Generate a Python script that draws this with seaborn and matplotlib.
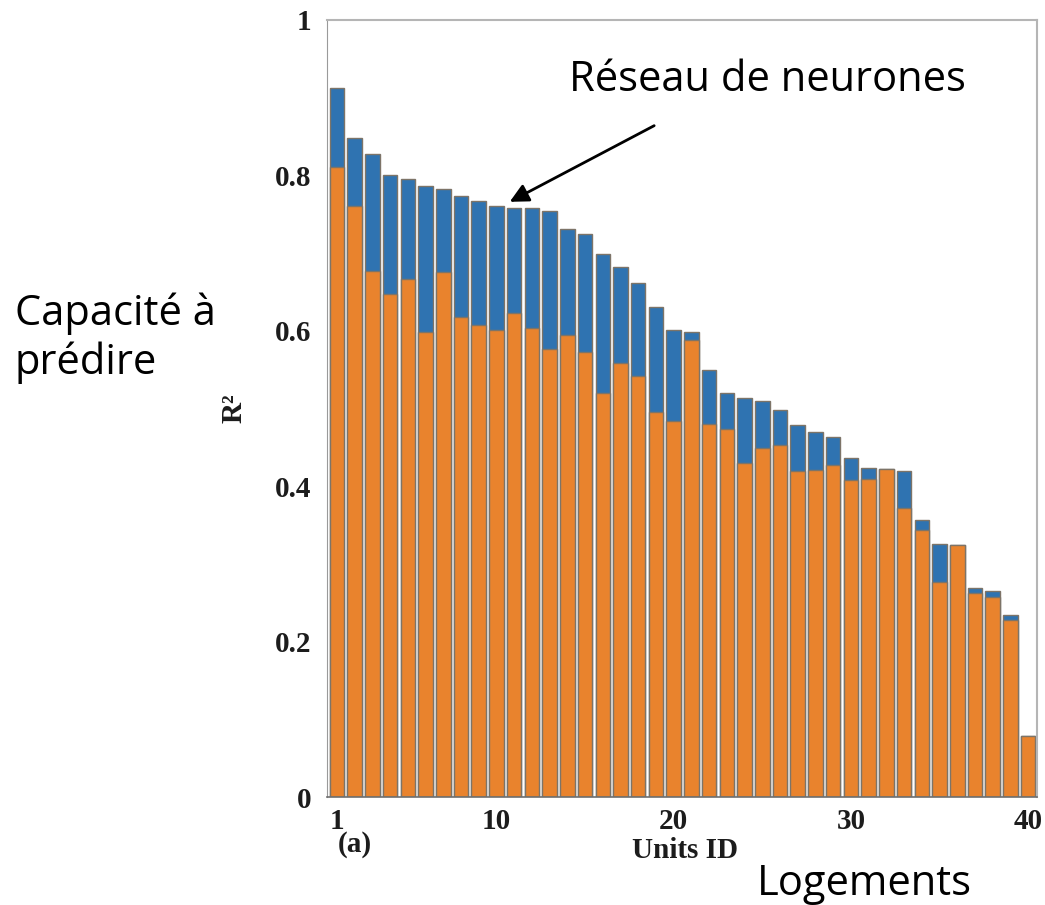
import matplotlib
matplotlib.use("Agg")
import matplotlib.pyplot as plt
import seaborn as sns
import pandas as pd

# Units and R2 values
units = list(range(1, 41))
r2_network = [0.912, 0.848, 0.828, 0.800, 0.795, 0.786, 0.783, 0.773, 0.767, 0.761,
              0.758, 0.758, 0.754, 0.731, 0.725, 0.699, 0.682, 0.661, 0.630, 0.601,
              0.599, 0.550, 0.520, 0.514, 0.510, 0.498, 0.479, 0.470, 0.463, 0.436,
              0.423, 0.422, 0.419, 0.357, 0.326, 0.324, 0.269, 0.265, 0.234, 0.079]
r2_other = [0.811, 0.760, 0.677, 0.648, 0.667, 0.599, 0.676, 0.618, 0.607, 0.601,
            0.623, 0.603, 0.577, 0.595, 0.573, 0.520, 0.558, 0.542, 0.496, 0.484,
            0.588, 0.480, 0.473, 0.430, 0.449, 0.453, 0.420, 0.421, 0.427, 0.408,
            0.409, 0.422, 0.372, 0.344, 0.277, 0.324, 0.263, 0.258, 0.228, 0.079]
x_ticks = [1, 10, 20, 30, 40]
y_ticks = [0, 0.2, 0.4, 0.6, 0.8, 1]
y_ticklabels = ["0", "0.2", "0.4", "0.6", "0.8", "1"]

df = pd.DataFrame({"Unit": units, "Network": r2_network, "Other": r2_other})

sns.set_style("white")
plt.rcParams["text.color"] = "black"
serif = ["Liberation Serif", "DejaVu Serif"]
sans = ["Open Sans", "DejaVu Sans"]
ink = "#1c1c1c"

W, H = 1045, 905
fig = plt.figure(figsize=(W / 100, H / 100), dpi=100)
ax = fig.add_axes([327 / W, 1 - 797 / H, (1037 - 327) / W, (797 - 20) / H])

blue = "#2f73b1"
orange = "#e9832d"
edge = "#7d7468"

# blue bars = total (neural network), orange drawn on top
sns.barplot(data=df, x="Unit", y="Network", native_scale=True, color=blue,
            width=0.82, edgecolor=edge, linewidth=1.0, saturation=1,
            errorbar=None, ax=ax)
sns.barplot(data=df, x="Unit", y="Other", native_scale=True, color=orange,
            width=0.82, edgecolor=edge, linewidth=1.0, saturation=1,
            errorbar=None, ax=ax)

ax.set_xlim(0.44, 40.5)
ax.set_ylim(0, 1)
ax.set_xticks(x_ticks)
ax.set_xticklabels([str(t) for t in x_ticks], fontfamily=serif, fontweight="bold",
                   fontsize=21, color=ink)
ax.set_yticks(y_ticks)
ax.set_yticklabels(y_ticklabels, fontfamily=serif, fontweight="bold", fontsize=21, color=ink)
ax.tick_params(axis="both", direction="out", length=4, width=1, color="#888888", pad=4)
ax.tick_params(axis="y", pad=7)

for side in ["top", "right"]:
    ax.spines[side].set_color("#b5b5b5")
    ax.spines[side].set_linewidth(1.5)
ax.spines["left"].set_color("#9a9a9a")
ax.spines["bottom"].set_color("#6e6e6e")
ax.spines["bottom"].set_linewidth(1.2)

ax.set_xlabel("")
ax.set_ylabel("R²", fontfamily=serif, fontweight="bold", fontsize=21, color=ink, labelpad=20)

# text below the axis
fig.text(338 / W, 1 - 845 / H, "(a)", fontfamily=serif, fontweight="bold",
         fontsize=21, color=ink, ha="left", va="center")
fig.text(685 / W, 1 - 850 / H, "Units ID", fontfamily=serif, fontweight="bold",
         fontsize=21, color=ink, ha="center", va="center")

# annotations
fig.text(767 / W, 1 - 80 / H, "Réseau de neurones", fontfamily=sans, fontsize=30,
         color="black", ha="center", va="center")
fig.text(15 / W, 1 - 338 / H, "Capacité à\nprédire", fontfamily=sans, fontsize=30,
         color="black", ha="left", va="center", linespacing=1.2)
fig.text(864 / W, 1 - 884 / H, "Logements", fontfamily=sans, fontsize=30,
         color="black", ha="center", va="center")

ax.annotate("", xy=(10.75, 0.766), xytext=(18.9, 0.864), xycoords="data",
            annotation_clip=False,
            arrowprops=dict(arrowstyle="-|>", color="black", lw=2, mutation_scale=28,
                            shrinkA=0, shrinkB=0))

fig.savefig("out.png", dpi=100)
